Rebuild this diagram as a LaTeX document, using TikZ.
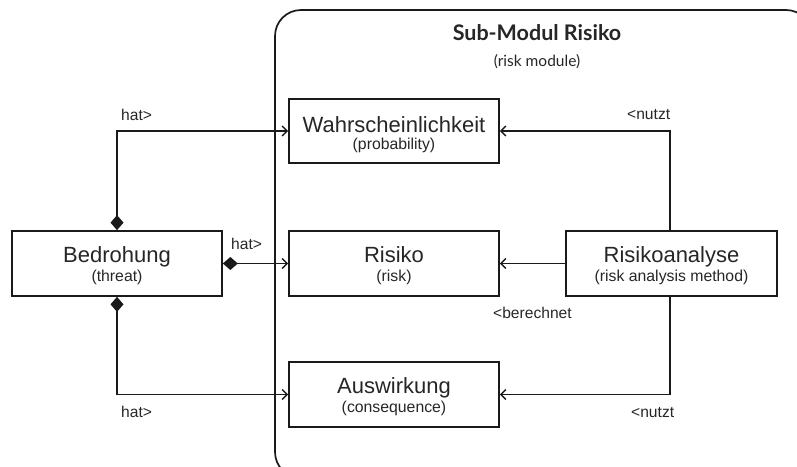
\documentclass[tikz,border=0pt]{standalone}
\usepackage{fontspec}
\setmainfont{Liberation Sans}
\newfontfamily\titlefont{Lato}
\usetikzlibrary{arrows.meta}

\definecolor{ink}{HTML}{1A1A1A}
\definecolor{txt}{HTML}{262626}

\tikzset{
  classbox/.style={draw=ink, line width=1.7pt, minimum width=210pt, minimum height=65pt, inner sep=0pt},
  maintext/.style={anchor=base, text=txt, font=\fontsize{22}{22}\selectfont},
  subtext/.style={anchor=base, text=txt, font=\fontsize{15.8}{16}\selectfont},
  assoc/.style={draw=ink, line width=1.7pt, {Diamond[length=15pt,width=13pt]}-{Straight Barb[length=5pt,width=10pt,line width=1.4pt]}},
  uses/.style={draw=ink, line width=1.7pt, -{Straight Barb[length=5pt,width=10pt,line width=1.4pt]}},
  rolelabel/.style={anchor=base west, text=txt, inner sep=0pt, font=\fontsize{15.6}{16}\selectfont}
}

\begin{document}
\begin{tikzpicture}[x=1pt, y=-1pt]
  \useasboundingbox (0,0) rectangle (797,466);
  \clip (0,0) rectangle (797,466);

  % module frame (runs past the right and bottom edges)
  \draw[ink, line width=1.7pt, rounded corners=26pt] (275,10) rectangle (812,478);
  \node[anchor=base, text=txt, font=\titlefont\bfseries\fontsize{21.5}{22}\selectfont] (title) at (537,40) {Sub-Modul Risiko};
  \node[anchor=base, text=txt, font=\titlefont\fontsize{15.5}{16}\selectfont] (subtitle) at (537,66) {(risk module)};

  % classes
  \node[classbox, minimum width=210pt] (bed) at (117,263.5) {};
  \node[maintext] (bed-t) at (117,262) {Bedrohung};
  \node[subtext]  (bed-s) at (117,281) {(threat)};

  \node[classbox, minimum height=64pt] (wah) at (394,131) {};
  \node[maintext] (wah-t) at (394,132) {Wahrscheinlichkeit};
  \node[subtext]  (wah-s) at (394,149.5) {(probability)};

  \node[classbox] (ris) at (394,263.5) {};
  \node[maintext] (ris-t) at (394,262) {Risiko};
  \node[subtext]  (ris-s) at (394,281) {(risk)};

  \node[classbox] (aus) at (394,394.5) {};
  \node[maintext] (aus-t) at (394,393) {Auswirkung};
  \node[subtext]  (aus-s) at (394,412) {(consequence)};

  \node[classbox, minimum width=211pt] (ana) at (671.5,263.5) {};
  \node[maintext] (ana-t) at (671.5,262) {Risikoanalyse};
  \node[subtext]  (ana-s) at (671.5,281) {(risk analysis method)};

  % associations of the threat
  \draw[assoc] (bed.north) |- (wah.west);
  \draw[assoc] (bed.east) -- (ris.west);
  \draw[assoc] (bed.south) |- (aus.west);

  % associations of the analysis method
  \draw[uses] (ana.north -| 670,0) |- (wah.east);
  \draw[uses] (ana.west) -- (ris.east);
  \draw[uses] (ana.south -| 670,0) |- (aus.east);

  % role labels
  \node[rolelabel] (l1) at (121,120) {hat>};
  \node[rolelabel] (l2) at (231,249) {hat>};
  \node[rolelabel] (l3) at (121,417) {hat>};
  \node[rolelabel] (l4) at (627,119) {<nutzt};
  \node[rolelabel] (l5) at (493,318) {<berechnet};
  \node[rolelabel] (l6) at (631,417) {<nutzt};
\end{tikzpicture}
\end{document}
